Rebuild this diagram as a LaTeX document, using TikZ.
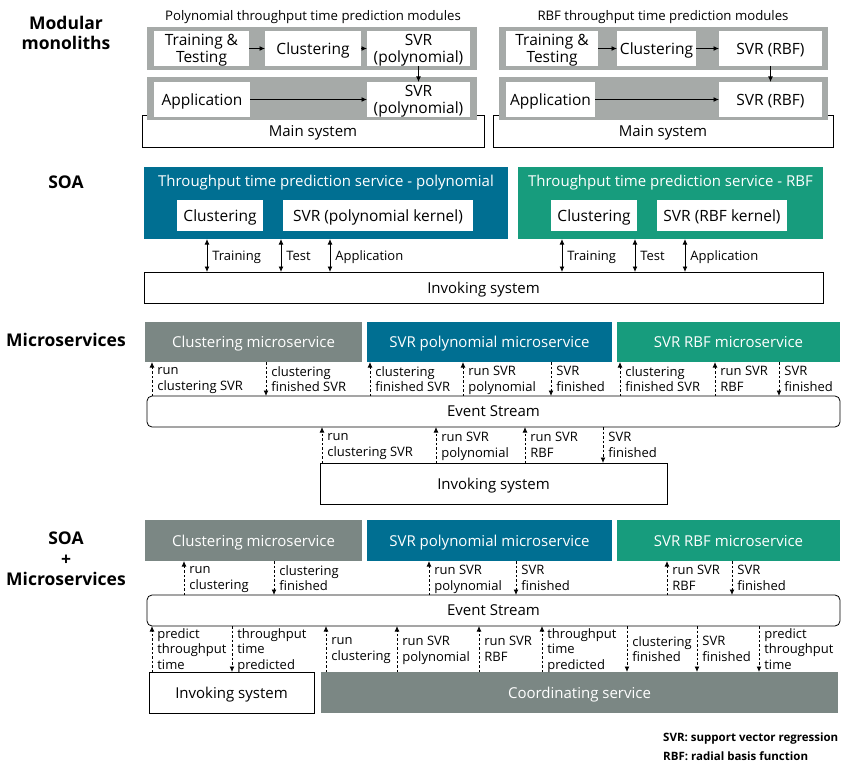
\documentclass[tikz,border=0pt]{standalone}
\usepackage{fontspec}
\setmainfont{Open Sans}
\usetikzlibrary{arrows.meta,calc}

\definecolor{grpgray}{HTML}{A6AAA8}
\definecolor{msgray}{HTML}{7B8784}
\definecolor{svcblue}{HTML}{006F92}
\definecolor{svcgreen}{HTML}{179C7D}

% box from its top-left corner (x1,y1) to its bottom-right corner (x2,y2)
\newcommand\placebox[7]{%
  \node[#6, anchor=north west, minimum width={(#4-#2)*1pt},
        minimum height={(#5-#3)*1pt}] (#1) at (#2,#3) {#7};}

\tikzset{
  % centre text on cap height and last baseline, ignoring descenders
  capfix/.style={text depth=0pt, execute at begin node={\rule{0pt}{#1}}},
  hdr/.style={font=\bfseries\fontsize{17.5}{20.5}\selectfont, align=center,
              inner sep=0, capfix=12.5pt},
  sub/.style={font=\fontsize{13.2}{16}\selectfont, inner sep=0, capfix=9.4pt},
  grp/.style={fill=grpgray, inner sep=0, outer sep=0},
  wbox/.style={fill=white, inner sep=0, outer sep=0, align=center,
               font=\fontsize{15.5}{17}\selectfont, capfix=11pt},
  frame/.style={draw=black, line width=0.8pt, fill=white, inner sep=0,
                outer sep=0, font=\fontsize{15}{18}\selectfont, capfix=10.7pt},
  svc/.style={inner sep=0, outer sep=0},
  svctxt/.style={text=white, font=\fontsize{15}{18}\selectfont, inner sep=0,
                 capfix=10.7pt},
  lbl/.style={font=\fontsize{13}{15.5}\selectfont, align=left, inner sep=0,
              anchor=west, xshift=5pt, capfix=9.4pt},
  txt/.style={font=\fontsize{15}{18}\selectfont, inner sep=0, capfix=10.7pt},
  abbr/.style={font=\bfseries\fontsize{11.5}{14}\selectfont, inner sep=0,
               anchor=base west},
  arr/.style={->, line width=0.8pt},
  dbl/.style={<->, line width=0.8pt},
  ev/.style={->, line width=0.8pt, dash pattern=on 2.5pt off 2pt},
  >={Latex[length=5.5pt,width=4.8pt]},
}

\begin{document}
\begin{tikzpicture}[x=1pt,y=-1pt]
\useasboundingbox (0,0) rectangle (843,762);

% ---------------- Modular monoliths ----------------
\node[hdr] at (66,33) {Modular\\monoliths};

% polynomial modules
\node[sub] at (313,15) {Polynomial throughput time prediction modules};
\placebox{ms1}{142}{115}{484}{147}{frame}{}
\node[txt] at ($(ms1.south)+(0,-16)$) {Main system};
\placebox{g1a}{147}{27}{477}{70}{grp}{}
\placebox{g1b}{147}{77}{477}{120}{grp}{}
\placebox{tt1}{154}{31}{249}{66}{wbox}{Training \&\\Testing}
\placebox{cl1}{265}{31}{361}{66}{wbox}{Clustering}
\placebox{sa1}{367}{31}{470}{66}{wbox}{SVR\\(polynomial)}
\placebox{ap1}{154}{82}{250}{117}{wbox}{Application}
\placebox{sb1}{367}{82}{470}{117}{wbox}{SVR\\(polynomial)}
\draw[arr] (tt1) -- (cl1);
\draw[arr] (cl1) -- (sa1);
\draw[arr] (ap1) -- (sb1);
\draw[arr] (sa1) -- (sb1);

% RBF modules
\node[sub] at (663,15) {RBF throughput time prediction modules};
\placebox{ms2}{493}{115}{833}{147}{frame}{}
\node[txt] at ($(ms2.south)+(0,-16)$) {Main system};
\placebox{g2a}{499}{27}{828}{70}{grp}{}
\placebox{g2b}{499}{77}{828}{120}{grp}{}
\placebox{tt2}{506}{31}{598}{66}{wbox}{Training \&\\Testing}
\placebox{cl2}{617}{31}{696}{66}{wbox}{Clustering}
\placebox{sa2}{719}{31}{822}{66}{wbox}{SVR (RBF)}
\placebox{ap2}{506}{82}{595}{117}{wbox}{Application}
\placebox{sb2}{719}{82}{822}{117}{wbox}{SVR (RBF)}
\draw[arr] (tt2) -- (cl2);
\draw[arr] (cl2) -- (sa2);
\draw[arr] (ap2) -- (sb2);
\draw[arr] (sa2) -- (sb2);

% ---------------- SOA ----------------
\node[hdr] at (66,182) {SOA};
\placebox{bp}{144}{167}{508}{239}{svc, fill=svcblue}{}
\node[svctxt] at (326,181) {Throughput time prediction service - polynomial};
\placebox{bcl}{177}{200}{263}{231}{wbox}{Clustering}
\placebox{bsvr}{283}{200}{473}{231}{wbox}{SVR (polynomial kernel)}
\placebox{gp}{518}{167}{823}{239}{svc, fill=svcgreen}{}
\node[svctxt] at (670.5,181) {Throughput time prediction service - RBF};
\placebox{gcl}{551}{200}{637}{231}{wbox}{Clustering}
\placebox{gsvr}{657}{200}{787}{231}{wbox}{SVR (RBF kernel)}
\placebox{inv1}{144}{272}{823}{303}{frame}{Invoking system}
\foreach \X/\T in {207/Training, 281/Test, 330/Application}
  \draw[dbl] (inv1.north -| \X,0) -- (bp.south -| \X,0) node[midway,lbl] {\T};
\foreach \X/\T in {562/Training, 635/Test, 685/Application}
  \draw[dbl] (inv1.north -| \X,0) -- (gp.south -| \X,0) node[midway,lbl] {\T};

% ---------------- Microservices ----------------
\node[hdr] at (66,339.5) {Microservices};
\placebox{mc1}{145}{322}{362}{362}{svc, fill=msgray}{}
\node[svctxt] at (mc1) {Clustering microservice};
\placebox{mp1}{367}{322}{612}{362}{svc, fill=svcblue}{}
\node[svctxt] at (mp1) {SVR polynomial microservice};
\placebox{mr1}{617}{322}{840}{362}{svc, fill=svcgreen}{}
\node[svctxt] at (mr1) {SVR RBF microservice};
\placebox{es1}{147}{396}{840}{427}{frame, rounded corners=5pt}{Event Stream}
\placebox{inv2}{320}{463}{667}{504}{frame}{Invoking system}

% events published to the stream and consumed by the services
\draw[ev] (es1.north -| 152,0) -- (mc1.south -| 152,0) node[midway,lbl] {run\\clustering SVR};
\draw[ev] (mc1.south -| 266,0) -- (es1.north -| 266,0) node[midway,lbl] {clustering\\finished SVR};
\draw[ev] (es1.north -| 370,0) -- (mp1.south -| 370,0) node[midway,lbl] {clustering\\finished SVR};
\draw[ev] (es1.north -| 463,0) -- (mp1.south -| 463,0) node[midway,lbl] {run SVR\\polynomial};
\draw[ev] (mp1.south -| 551,0) -- (es1.north -| 551,0) node[midway,lbl] {SVR\\finished};
\draw[ev] (es1.north -| 620,0) -- (mr1.south -| 620,0) node[midway,lbl] {clustering\\finished SVR};
\draw[ev] (es1.north -| 715,0) -- (mr1.south -| 715,0) node[midway,lbl] {run SVR\\RBF};
\draw[ev] (mr1.south -| 779,0) -- (es1.north -| 779,0) node[midway,lbl] {SVR\\finished};

\draw[ev] (inv2.north -| 322,0) -- (es1.south -| 322,0) node[midway,lbl] {run\\clustering SVR};
\draw[ev] (inv2.north -| 436,0) -- (es1.south -| 436,0) node[midway,lbl] {run SVR\\polynomial};
\draw[ev] (inv2.north -| 525,0) -- (es1.south -| 525,0) node[midway,lbl] {run SVR\\RBF};
\draw[ev] (es1.south -| 603,0) -- (inv2.north -| 603,0) node[midway,lbl] {SVR\\finished};

% ---------------- SOA + Microservices ----------------
\node[hdr] at (66,559) {SOA\\+\\Microservices};
\placebox{mc2}{145}{520}{362}{561}{svc, fill=msgray}{}
\node[svctxt] at (mc2) {Clustering microservice};
\placebox{mp2}{367}{520}{612}{561}{svc, fill=svcblue}{}
\node[svctxt] at (mp2) {SVR polynomial microservice};
\placebox{mr2}{617}{520}{840}{561}{svc, fill=svcgreen}{}
\node[svctxt] at (mr2) {SVR RBF microservice};
\placebox{es2}{147}{595}{840}{626}{frame, rounded corners=5pt}{Event Stream}
\placebox{inv3}{149}{672}{314}{713}{frame}{Invoking system}
\placebox{co}{321}{672}{838}{713}{svc, fill=msgray}{}
\node[svctxt] at (co) {Coordinating service};

\draw[ev] (es2.north -| 184,0) -- (mc2.south -| 184,0) node[midway,lbl] {run\\clustering};
\draw[ev] (mc2.south -| 274,0) -- (es2.north -| 274,0) node[midway,lbl] {clustering\\finished};
\draw[ev] (es2.north -| 429,0) -- (mp2.south -| 429,0) node[midway,lbl] {run SVR\\polynomial};
\draw[ev] (mp2.south -| 516,0) -- (es2.north -| 516,0) node[midway,lbl] {SVR\\finished};
\draw[ev] (es2.north -| 667,0) -- (mr2.south -| 667,0) node[midway,lbl] {run SVR\\RBF};
\draw[ev] (mr2.south -| 732,0) -- (es2.north -| 732,0) node[midway,lbl] {SVR\\finished};

\draw[ev] (inv3.north -| 152,0) -- (es2.south -| 152,0) node[midway,lbl] {predict\\throughput\\time};
\draw[ev] (es2.south -| 232,0) -- (inv3.north -| 232,0) node[midway,lbl] {throughput\\time\\predicted};
\draw[ev] (co.north -| 326,0) -- (es2.south -| 326,0) node[midway,lbl] {run\\clustering};
\draw[ev] (co.north -| 397,0) -- (es2.south -| 397,0) node[midway,lbl] {run SVR\\polynomial};
\draw[ev] (co.north -| 479,0) -- (es2.south -| 479,0) node[midway,lbl] {run SVR\\RBF};
\draw[ev] (co.north -| 542,0) -- (es2.south -| 542,0) node[midway,lbl] {throughput\\time\\predicted};
\draw[ev] (es2.south -| 627,0) -- (co.north -| 627,0) node[midway,lbl] {clustering\\finished};
\draw[ev] (es2.south -| 697,0) -- (co.north -| 697,0) node[midway,lbl] {SVR\\finished};
\draw[ev] (es2.south -| 759,0) -- (co.north -| 759,0) node[midway,lbl] {predict\\throughput\\time};

% ---------------- abbreviations ----------------
\node[abbr] (abbr1) at (663,741.5) {SVR: support vector regression};
\node[abbr] (abbr2) at (663,760.5) {RBF: radial basis function};
\end{tikzpicture}
\end{document}
